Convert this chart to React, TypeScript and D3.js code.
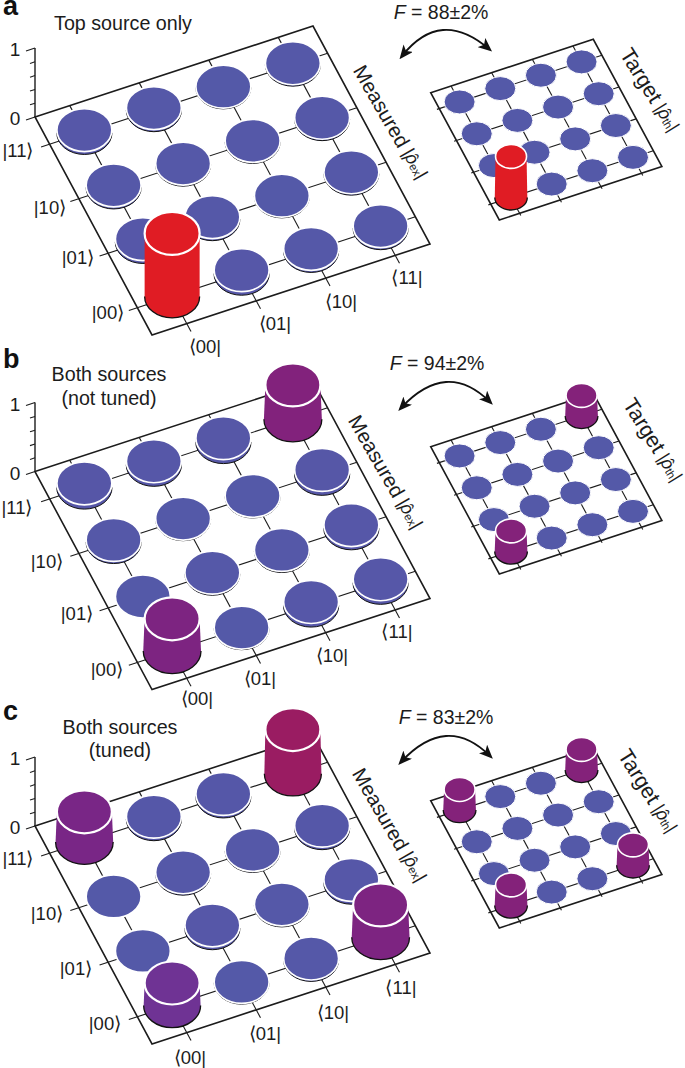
import * as d3 from "d3";

// Axis categories
const kets = ["|11⟩", "|10⟩", "|01⟩", "|00⟩"];
const bras = ["⟨00|", "⟨01|", "⟨10|", "⟨11|"];
const zTicks = [0, 0.2, 0.4, 0.6, 0.8, 1];

// Density matrix magnitudes, one row per ket (top to bottom of the left edge)
const measuredA = [
  [0.04, 0.03, 0.01, 0.02],
  [0.03, 0.015, 0.015, 0.02],
  [0.04, 0.03, 0.01, 0.02],
  [0.9, 0.05, 0.03, 0.03],
];
const measuredB = [
  [0.06, 0.05, 0.055, 0.49],
  [0.03, 0.01, 0.01, 0.055],
  [0.0, 0.015, 0.015, 0.045],
  [0.46, 0.01, 0.05, 0.05],
];
const measuredC = [
  [0.43, 0.035, 0.035, 0.63],
  [0.0, 0.02, 0.015, 0.035],
  [0.0, 0.04, 0.015, 0.04],
  [0.32, 0.01, 0.02, 0.46],
];
const targetA = [
  [0, 0, 0, 0],
  [0, 0, 0, 0],
  [0, 0, 0, 0],
  [1, 0, 0, 0],
];
const targetB = [
  [0, 0, 0, 0.5],
  [0, 0, 0, 0],
  [0, 0, 0, 0],
  [0.5, 0, 0, 0],
];
const targetC = [
  [0.5, 0, 0, 0.5],
  [0, 0, 0, 0],
  [0, 0, 0, 0],
  [0.5, 0, 0, 0.5],
];

const fidelities = ["88±2%", "94±2%", "83±2%"];
const panelLetters = ["a", "b", "c"];
const panelTitles = [["Top source only"], ["Both sources", "(not tuned)"], ["Both sources", "(tuned)"]];

const FONT = "'Liberation Sans', Arial, sans-serif";
const INK = "#1c1c1c";

const color = d3
  .scaleLinear<string>()
  .domain([0, 0.2, 0.32, 0.45, 0.63, 0.9])
  .range(["#5459a8", "#5c50a6", "#6f3394", "#7b2483", "#9a1c62", "#e01c24"])
  .clamp(true);
const flare = d3.scaleLinear().domain([0, 0.5, 0.9, 1]).range([0, 0.055, 0, 0.05]);

const bandU = d3.scaleBand().domain(kets).range([0, 1]);
const bandV = d3.scaleBand().domain(bras).range([0, 1]);
const midU = (k: string) => (bandU(k) as number) + bandU.bandwidth() / 2;
const midV = (b: string) => (bandV(b) as number) + bandV.bandwidth() / 2;

type Geo = {
  x: number;
  y: number;
  ux: number;
  uy: number;
  vx: number;
  vy: number;
  rx: number;
  ry: number;
  zPx: number;
  ext: number;
};

const measuredGeo = { x: 35, ux: 117, uy: 218, vx: 278, vy: -91, rx: 27.5, ry: 21.5, zPx: 70, ext: 9 };
const targetGeo = { x: 430.7, ux: 68.6, uy: 127.3, vx: 162.6, vy: -53.4, rx: 15.5, ry: 12, zPx: 41, ext: 2.5 };

function Board({ geo, values }: { geo: Geo; values: number[][] }) {
  const at = (f: number, g: number): [number, number] => [
    geo.x + f * geo.ux + g * geo.vx,
    geo.y + f * geo.uy + g * geo.vy,
  ];
  const z = d3.scaleLinear().domain([0, 1]).range([0, geo.zPx]);
  const extU = geo.ext / Math.hypot(geo.ux, geo.uy);
  const extV = geo.ext / Math.hypot(geo.vx, geo.vy);
  const line = d3.line();
  const big = geo.zPx > 50;

  const bars = kets
    .flatMap((k, i) =>
      bras.map((b, j) => ({ v: values[i][j], base: at(midU(k), midV(b)) }))
    )
    .sort((p, q) => p.base[1] - q.base[1]);

  return (
    <g>
      {kets.map((k) => (
        <path
          key={k}
          d={line([at(midU(k), -extV), at(midU(k), 1)]) as string}
          stroke={INK}
          strokeWidth={1.1}
          fill="none"
        />
      ))}
      {bras.map((b) => (
        <path
          key={b}
          d={line([at(0, midV(b)), at(1 + extU, midV(b))]) as string}
          stroke={INK}
          strokeWidth={1.1}
          fill="none"
        />
      ))}
      <path
        d={(line([at(0, 0), at(0, 1), at(1, 1), at(1, 0)]) as string) + "Z"}
        fill="none"
        stroke={INK}
        strokeWidth={1.6}
      />
      {bars.map(({ v, base }, n) => {
        const [cx, cy] = base;
        const h = z(v);
        const fill = color(v);
        const rb = geo.rx * (1 + flare(v));
        const rby = geo.ry * (1 + flare(v));
        const tall = v > 0.2;
        const body = `M${cx - geo.rx},${cy - h}L${cx - rb},${cy}A${rb},${rby} 0 0 0 ${cx + rb},${cy}L${cx + geo.rx},${cy - h}Z`;
        const rim = `M${cx - rb},${cy}A${rb},${rby} 0 0 0 ${cx + rb},${cy}`;
        return (
          <g key={n}>
            {h > 0 && <path d={body} fill={fill} />}
            {h > 0 && <path d={rim} fill="none" stroke="#111" strokeWidth={tall ? 1.3 : 1} />}
            <ellipse
              cx={cx}
              cy={cy - h}
              rx={geo.rx}
              ry={geo.ry}
              fill={fill}
              stroke="#fff"
              strokeWidth={big ? (tall ? 2.2 : 1.7) : tall ? 1.6 : 1}
            />
          </g>
        );
      })}
    </g>
  );
}

function ZAxis({ y }: { y: number }) {
  const z = d3.scaleLinear().domain([0, 1]).range([y, y - measuredGeo.zPx + 1]);
  const x = measuredGeo.x;
  const slope = measuredGeo.vy / measuredGeo.vx;
  return (
    <g>
      <line x1={x} x2={x} y1={z(0)} y2={z(1)} stroke={INK} strokeWidth={1.4} />
      {zTicks.map((t) => {
        const len = t === 0 || t === 1 ? 9 : 5;
        return <line key={t} x1={x} x2={x - len} y1={z(t)} y2={z(t) - slope * len} stroke={INK} strokeWidth={1.1} />;
      })}
      {[0, 1].map((t) => (
        <text key={t} x={15} y={z(t) + 8} fontSize={19} textAnchor="middle" fill={INK}>
          {t}
        </text>
      ))}
    </g>
  );
}

function ArrowPair({ from, peak, to }: { from: number[]; peak: number[]; to: number[] }) {
  const p = d3.path();
  p.moveTo(from[0], from[1]);
  p.quadraticCurveTo(
    2 * peak[0] - (from[0] + to[0]) / 2,
    2 * peak[1] - (from[1] + to[1]) / 2,
    to[0],
    to[1]
  );
  return <path d={p.toString()} fill="none" stroke="#111" strokeWidth={1.9} markerStart="url(#head)" markerEnd="url(#head)" />;
}

function RotLabel({ cx, cy, angle, name, sub, size }: { cx: number; cy: number; angle: number; name: string; sub: string; size: number }) {
  const small = 18;
  return (
    <text transform={`translate(${cx},${cy}) rotate(${angle})`} fontSize={size} textAnchor="middle" dominantBaseline="central" fill={INK}>
      {name}
      <tspan fontSize={small}> |</tspan>
      <tspan fontSize={small} fontStyle="italic">ρ</tspan>
      <tspan fontSize={small} dx={-small * 0.43}>ˆ</tspan>
      <tspan dx={small * 0.09} fontSize={small * 0.64} dy={3}>
        {sub}
      </tspan>
      <tspan fontSize={small} dy={-3}>|</tspan>
    </text>
  );
}

// Text placement for each panel
const layouts = [
  {
    my: 117, ty: 92.7,
    titleX: 123, titleY: [30],
    letterY: 15,
    fX: 441, fY: 19,
    arrow: { from: [402, 56], peak: [443, 30], to: [489, 49] },
    measured: [391, 122], target: [650, 90],
    ketAt: [[18, 150], [50, 207], [78, 257], [108, 312]],
    braAt: [[205, 346], [275, 323], [341, 301], [407, 277]],
  },
  {
    my: 471.6, ty: 446.7,
    titleX: 109, titleY: [381, 405],
    letterY: 368,
    fX: 437, fY: 370,
    arrow: { from: [401, 408], peak: [446, 382], to: [490, 402] },
    measured: [386, 472], target: [653, 440],
    ketAt: [[17, 507], [47, 561], [77, 613], [107, 669]],
    braAt: [[197, 698], [260, 678], [332, 655], [397, 631]],
  },
  {
    my: 826, ty: 800.7,
    titleX: 120, titleY: [734, 757],
    letterY: 720,
    fX: 446, fY: 724,
    arrow: { from: [401, 762], peak: [446, 736], to: [490, 756] },
    measured: [390, 825], target: [648, 791],
    ketAt: [[18, 858], [47, 913], [76, 968], [105, 1023]],
    braAt: [[190, 1057], [265, 1033], [333, 1012], [401, 987]],
  },
];

const measuredSets = [measuredA, measuredB, measuredC];
const targetSets = [targetA, targetB, targetC];

export default function App() {
  return (
    <svg width={685} height={1068} style={{ position: "absolute", left: 0, top: 0, background: "#fff" }} fontFamily={FONT}>
      <defs>
        <marker id="head" viewBox="0 0 14 12" refX={10} refY={6} markerWidth={14} markerHeight={12} markerUnits="userSpaceOnUse" orient="auto-start-reverse">
          <path d="M0,0L14,6L0,12L3.5,6Z" fill="#111" />
        </marker>
      </defs>
      {layouts.map((l, n) => (
        <g key={n}>
          <text x={3} y={l.letterY} fontSize={27} fontWeight="bold" fill="#111">
            {panelLetters[n]}
          </text>
          <ZAxis y={l.my} />
          <Board geo={{ ...measuredGeo, y: l.my }} values={measuredSets[n]} />
          <Board geo={{ ...targetGeo, y: l.ty }} values={targetSets[n]} />
          {panelTitles[n].map((t, i) => (
            <text key={t} x={l.titleX} y={l.titleY[i]} fontSize={19.7} textAnchor="middle" fill={INK}>
              {t}
            </text>
          ))}
          {kets.map((k, i) => (
            <text key={k} x={l.ketAt[i][0]} y={l.ketAt[i][1] + 6.5} fontSize={18.5} textAnchor="middle" fill={INK}>
              {k}
            </text>
          ))}
          {bras.map((b, i) => (
            <text key={b} x={l.braAt[i][0]} y={l.braAt[i][1] + 6.5} fontSize={18.5} textAnchor="middle" fill={INK}>
              {b}
            </text>
          ))}
          <text x={l.fX} y={l.fY} fontSize={19.5} textAnchor="middle" fill={INK}>
            <tspan fontStyle="italic">F</tspan> = {fidelities[n]}
          </text>
          <ArrowPair {...l.arrow} />
          <RotLabel cx={l.measured[0]} cy={l.measured[1]} angle={60} name="Measured" sub="ex" size={20.5} />
          <RotLabel cx={l.target[0]} cy={l.target[1]} angle={58} name="Target" sub="th" size={21.5} />
        </g>
      ))}
    </svg>
  );
}
